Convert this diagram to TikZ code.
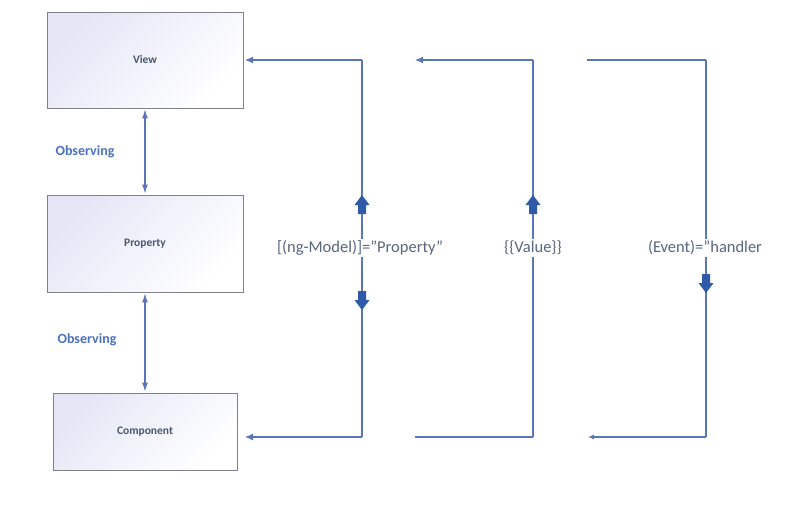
\documentclass[tikz,border=0pt]{standalone}
\usepackage{fontspec}
\setmainfont{Carlito}
\usetikzlibrary{arrows.meta}
\definecolor{linecol}{HTML}{5B76B8}
\definecolor{fatcol}{HTML}{2F5AA8}
\definecolor{boxline}{HTML}{7F8088}
\definecolor{boxlav}{HTML}{E4E6F6}
\definecolor{boxtext}{HTML}{4A5570}
\definecolor{obscol}{HTML}{4A72C0}
\definecolor{labcol}{HTML}{5A6580}
\tikzset{
  box/.style={draw=boxline, line width=0.9pt, left color=boxlav, right color=white, shading angle=45,
    font=\fontsize{11.5}{13}\selectfont\bfseries, text=boxtext, inner sep=0pt},
  conn/.style={draw=linecol, line width=1.1pt},
  tip/.style={-{Latex[length=8pt,width=7pt]}},
  dbl/.style={{Latex[length=9pt,width=6pt]}-{Latex[length=9pt,width=6pt]}},
  obs/.style={font=\fontsize{14}{16}\selectfont\bfseries, text=obscol},
  lab/.style={font=\fontsize{16.5}{18}\selectfont, text=labcol, fill=white, inner sep=1.5pt},
  pics/fatup/.style={code={\fill[fatcol] (0,-10) -- (7.5,0) -- (4,0) -- (4,9) -- (-4,9) -- (-4,0) -- (-7.5,0) -- cycle;}},
  pics/fatdown/.style={code={\fill[fatcol] (0,10) -- (7.5,0) -- (4,0) -- (4,-9) -- (-4,-9) -- (-4,0) -- (-7.5,0) -- cycle;}}
}
\begin{document}
\begin{tikzpicture}[x=1pt,y=-1pt]
\useasboundingbox (0,0) rectangle (785,507);
\fill[white] (0,0) rectangle (785,507);
% boxes
\node[box, minimum width=196pt, minimum height=96pt] (view) at (145,60) {View};
\node[box, minimum width=196pt, minimum height=97pt] (prop) at (145,243.5) {Property};
\node[box, minimum width=184pt, minimum height=77pt] (comp) at (145,431.5) {Component};
% observing arrows
\draw[conn, dbl, shorten <=1pt, shorten >=1pt] (view.south) -- (prop.north);
\draw[conn, dbl, shorten <=1pt, shorten >=1pt] (prop.south) -- (comp.north);
\node[obs] (obs1) at (85,152) {Observing};
\node[obs] (obs2) at (87,340) {Observing};
% bracket 1
\coordinate (a1) at (362,60);
\coordinate (a2) at (362,437);
\coordinate (a1e) at (245,60);
\coordinate (a2e) at (245,437);
\draw[conn, tip] (a1) -- (a1e);
\draw[conn] (a1) -- (a2);
\draw[conn, tip] (a2) -- (a2e);
\node[lab] (l1) at (360,248) {[(ng-Model)]=”Property”};
\pic at (362,205) {fatup};
\pic at (362,300) {fatdown};
% bracket 2
\coordinate (b1) at (533,60);
\coordinate (b2) at (533,437);
\coordinate (b1e) at (415,60);
\coordinate (b2e) at (415,437);
\draw[conn, tip] (b1) -- (b1e);
\draw[conn] (b1) -- (b2);
\draw[conn] (b2) -- (b2e);
\node[lab] (l2) at (533,248) {\{\{Value\}\}};
\pic at (533,205) {fatup};
% bracket 3
\coordinate (c1) at (706,60);
\coordinate (c2) at (706,437);
\coordinate (c1s) at (587,60);
\coordinate (c2e) at (588,437);
\draw[conn] (c1s) -- (c1);
\draw[conn] (c1) -- (c2);
\draw[conn, -{Latex[length=6pt,width=5pt]}] (c2) -- (c2e);
\node[lab] (l3) at (705,248) {(Event)=”handler};
\pic at (706,283) {fatdown};
\end{tikzpicture}
\end{document}
